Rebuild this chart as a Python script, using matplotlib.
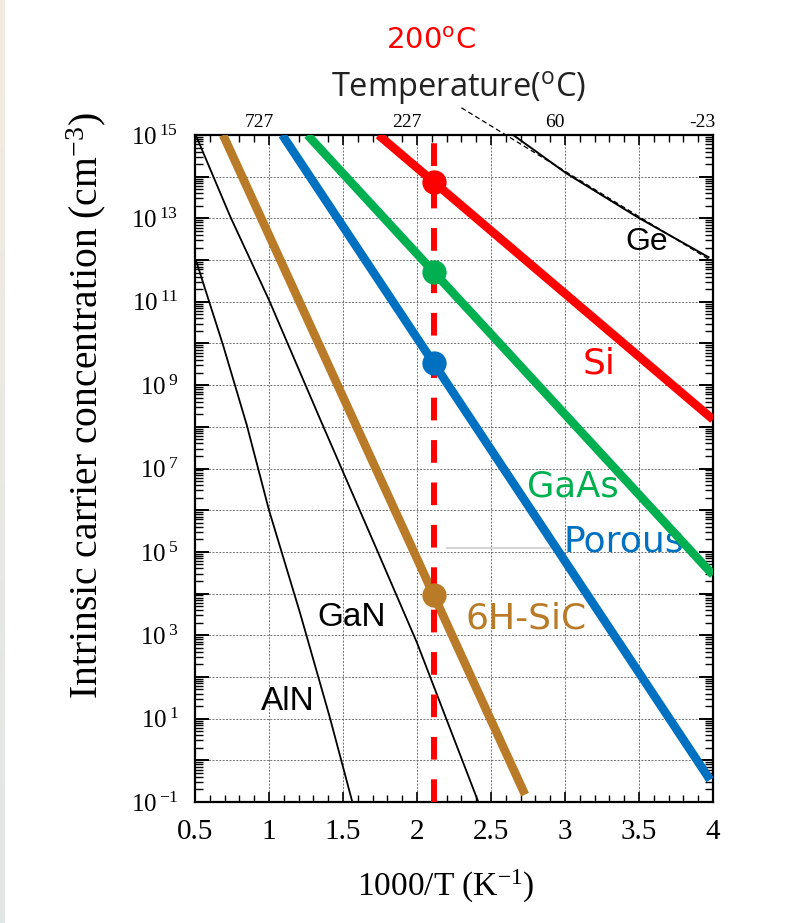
import numpy as np
import matplotlib
matplotlib.use("Agg")
import matplotlib.pyplot as plt
import matplotlib.transforms as mtransforms
from matplotlib.ticker import MultipleLocator, LogLocator, FuncFormatter, NullFormatter

# ---- data: intrinsic carrier concentration n_i (cm^-3) versus 1000/T (K^-1) ----
x_ticks = [0.5, 1.0, 1.5, 2.0, 2.5, 3.0, 3.5, 4.0]
temp_c_labels = [727, 227, 60, -23]
marker_temp_c = 200

# highlighted materials (straight Arrhenius lines)
si_x = [1.74, 4.00]
si_n = [1.0e15, 1.5e8]
gaas_x = [1.26, 4.00]
gaas_n = [1.0e15, 2.8e4]
porous_x = [1.09, 3.98]
porous_n = [1.0e15, 0.34]
sic_x = [0.69, 2.73]
sic_n = [1.0e15, 0.15]

# background literature curves
ge_x = [2.65, 3.01, 3.49, 3.97]
ge_n = [1.0e15, 1.2e14, 1.07e13, 1.17e12]
ge_fit_x = [2.30, 3.98]
ge_fit_n = [4.5e15, 1.0e12]
gan_x = [0.51, 0.74, 1.00, 1.35, 1.73, 2.00, 2.41]
gan_n = [9.1e14, 1.07e13, 1.1e11, 1.4e8, 1.1e5, 6.6e2, 0.11]
aln_x = [0.51, 0.69, 0.85, 1.00, 1.21, 1.41, 1.56]
aln_n = [9.0e11, 9.0e9, 1.1e8, 1.0e6, 3.4e3, 11.0, 0.11]
smudge_x = [2.20, 2.95]
smudge_n = [1.26e5, 1.26e5]

RED = "#FF0000"
GREEN = "#00B050"
BLUE = "#0070C0"
OCHRE = "#B97B28"

plt.rcParams["font.family"] = ["Liberation Serif", "DejaVu Serif"]

W, H = 793, 923
fig = plt.figure(figsize=(W / 100, H / 100), dpi=100)
fig.patch.set_facecolor("white")

# thin tinted strip along the left edge
strip = fig.add_axes([0, 0, 5 / W, 1])
grad = np.linspace(0, 1, 256)[:, None]
top_c = np.array([0.953, 0.925, 0.882])
bot_c = np.array([0.878, 0.898, 0.898])
img = top_c[None, None, :] * (1 - grad[:, :, None]) + bot_c[None, None, :] * grad[:, :, None]
strip.imshow(img, aspect="auto", extent=[0, 1, 0, 1])
strip.axis("off")

ax = fig.add_axes([195 / W, 1 - 802 / H, (713 - 195) / W, (802 - 135) / H])
ax.set_yscale("log")
ax.set_xlim(0.5, 4.0)
ax.set_ylim(1e-1, 1e15)

# grid
ax.xaxis.set_major_locator(MultipleLocator(0.5))
ax.xaxis.set_minor_locator(MultipleLocator(0.1))
ax.yaxis.set_major_locator(LogLocator(base=10, numticks=40))
ax.yaxis.set_minor_locator(LogLocator(base=10, subs=np.arange(2, 10), numticks=40))
ax.yaxis.set_minor_formatter(NullFormatter())
ax.grid(True, which="major", color="#444444", linestyle=(0, (2, 1.5)), linewidth=0.7, alpha=0.75)


def y_fmt(v, pos):
    e = int(round(np.log10(v)))
    if e % 2 == 0:
        return ""
    sign = "{-}" if e < 0 else ""
    return r"$\mathdefault{10^{\,%s%d}}$" % (sign, abs(e))


ax.yaxis.set_major_formatter(FuncFormatter(y_fmt))
ax.set_xticks(x_ticks)
ax.set_xticklabels([("%g" % v) for v in x_ticks])

ax.tick_params(axis="x", which="major", direction="in", length=7, width=1.2,
               top=True, bottom=True, labelsize=21, pad=12)
ax.tick_params(axis="x", which="minor", direction="in", length=5, width=1.0,
               top=True, bottom=True)
ax.tick_params(axis="y", which="major", direction="in", length=10, width=1.4,
               left=True, right=True, labelsize=18, pad=12)
ax.tick_params(axis="y", which="minor", direction="in", length=6, width=1.0,
               left=True, right=True)
for s in ax.spines.values():
    s.set_linewidth(1.6)

# background curves
ax.plot(smudge_x, smudge_n, color="#d6d6d6", lw=1.6, zorder=2)
ax.plot(ge_x, ge_n, color="black", lw=1.4, zorder=3)
ax.plot(ge_fit_x, ge_fit_n, color="black", lw=0.9, ls=(0, (4, 2.5)), zorder=3, clip_on=False)
ax.plot(gan_x, gan_n, color="black", lw=1.3, zorder=3)
ax.plot(aln_x, aln_n, color="black", lw=1.3, zorder=3)

# highlighted lines
series = [(si_x, si_n, RED), (gaas_x, gaas_n, GREEN),
          (porous_x, porous_n, BLUE), (sic_x, sic_n, OCHRE)]
for xs, ns, c in series:
    ax.plot(xs, ns, color=c, lw=6.2, solid_capstyle="butt", zorder=4)

# 200 C marker line and dots
x200 = 1000.0 / (marker_temp_c + 273.15)
ax.axvline(x200, color=RED, lw=4.3, ls=(0, (3.8, 3.3)), zorder=5)
for xs, ns, c in series:
    n200 = 10 ** np.interp(x200, xs, np.log10(ns))
    ax.plot([x200], [n200], "o", color=c, ms=17.5, mec="none", zorder=6)

# curve labels
sans = ["DejaVu Sans"]
arial = ["Liberation Sans", "DejaVu Sans"]
ax.text(3.55, 10 ** 12.43, "Ge", family=arial, fontsize=23, color="black", ha="center", va="center")
ax.text(1.56, 10 ** 3.43, "GaN", family=arial, fontsize=24, color="black", ha="center", va="center")
ax.text(1.13, 10 ** 1.40, "AlN", family=arial, fontsize=24, color="black", ha="center", va="center")
ax.text(3.23, 10 ** 9.51, "Si", family=sans, fontsize=26, color=RED, ha="center", va="center")
ax.text(3.05, 10 ** 6.58, "GaAs", family=sans, fontsize=25.5, color=GREEN, ha="center", va="center")
ax.text(3.40, 10 ** 5.24, "Porous", family=sans, fontsize=26, color=BLUE, ha="center", va="center")
ax.text(2.74, 10 ** 3.39, "6H-SiC", family=sans, fontsize=26, color=OCHRE, ha="center", va="center")

# top temperature scale labels
for tc in temp_c_labels:
    xt = 1000.0 / (tc + 273.15)
    off = mtransforms.offset_copy(ax.get_xaxis_transform(), fig=fig, x=-10, y=4, units="dots")
    ax.text(xt, 1.0, str(tc), transform=off, fontsize=14, ha="center", va="bottom")

fig.text(459 / W, 1 - 88 / H, r"Temperature($\mathdefault{^o}$C)", family=["Open Sans"], fontsize=23.5,
         color="#222222", ha="center", va="center")
fig.text(431 / W, 1 - 41 / H, r"200$\mathdefault{^o}$C", family=sans, fontsize=21,
         color=RED, ha="center", va="center")

fig.text(446 / W, 1 - 886 / H, r"1000/T (K$\mathdefault{^{-1}}$)", fontsize=24,
         ha="center", va="center")
fig.text(86 / W, 1 - 406 / H, r"Intrinsic carrier concentration (cm$\mathdefault{^{-3}}$)",
         fontsize=28.5, rotation=90, ha="center", va="center")

fig.savefig("out.png", dpi=100, facecolor="white")
